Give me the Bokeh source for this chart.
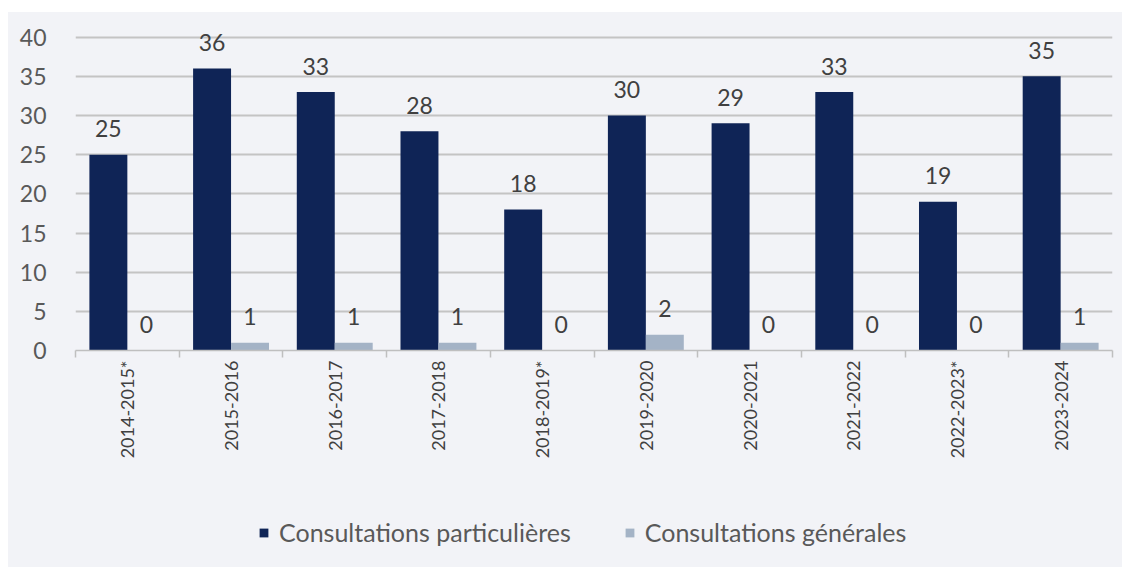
import math
from bokeh.plotting import figure
from bokeh.layouts import column
from bokeh.models import ColumnDataSource, FixedTicker, Legend, LegendItem, LabelSet
from bokeh.transform import dodge
from bokeh.core.properties import value
from bokeh.embed import file_html
from bokeh.resources import INLINE

periods = ["2014-2015*", "2015-2016", "2016-2017", "2017-2018", "2018-2019*",
           "2019-2020", "2020-2021", "2021-2022", "2022-2023*", "2023-2024"]
particulieres = [25, 36, 33, 28, 18, 30, 29, 33, 19, 35]
generales = [0, 1, 1, 1, 0, 2, 0, 0, 0, 1]
series_names = ["Consultations particulières", "Consultations générales"]
y_ticks = [0, 5, 10, 15, 20, 25, 30, 35, 40]

xs = list(range(1, len(periods) + 1))
src = ColumnDataSource(dict(
    x=xs, part=particulieres, gen=generales,
    part_s=[str(v) for v in particulieres], gen_s=[str(v) for v in generales],
))

BG = "#F2F3F7"
DARK = "#0F2456"
LIGHT = "#A4B3C6"
FONT = "Lato"

p = figure(width=1114, height=488, x_range=(0.5, 10.5), y_range=(0, 42),
           output_backend="svg", toolbar_location=None,
           background_fill_color=BG, border_fill_color=BG, outline_line_color=None,
           min_border_left=67, min_border_right=10, min_border_top=9, min_border_bottom=150)

W = 0.366
r1 = p.vbar(x=dodge("x", -W / 2, range=p.x_range), top="part", width=W, source=src,
            fill_color=DARK, line_color=None)
r2 = p.vbar(x=dodge("x", W / 2, range=p.x_range), top="gen", width=W, source=src,
            fill_color=LIGHT, line_color=None)

for col, off in (("part_s", -W / 2), ("gen_s", W / 2)):
    ycol = "part" if col == "part_s" else "gen"
    p.add_layout(LabelSet(x=dodge("x", off, range=p.x_range), y=ycol, text=col, source=src,
                          text_align="center", text_baseline="middle", y_offset=26,
                          text_font=value(FONT), text_font_size="23px", text_color="#404040"))

# grid
p.xgrid.grid_line_color = None
p.ygrid.ticker = FixedTicker(ticks=y_ticks[1:])
p.ygrid.grid_line_color = "#C4C4C4"
p.ygrid.grid_line_width = 2

# y axis
p.yaxis.ticker = FixedTicker(ticks=y_ticks)
p.yaxis.axis_line_color = None
p.yaxis.major_tick_line_color = None
p.yaxis.minor_tick_line_color = None
p.yaxis.major_label_standoff = 23
p.yaxis.major_label_text_font = FONT
p.yaxis.major_label_text_font_size = "23px"
p.yaxis.major_label_text_color = "#595959"

# x axis
p.xaxis.ticker = FixedTicker(ticks=xs, minor_ticks=[x - 0.5 for x in xs] + [xs[-1] + 0.5])
p.xaxis.major_label_overrides = {x: lab for x, lab in zip(xs, periods)}
p.xaxis.major_label_orientation = math.pi / 2
p.xaxis.major_tick_line_color = None
p.xaxis.major_tick_out = 0
p.xaxis.major_tick_in = 0
p.xaxis.minor_tick_out = 7
p.xaxis.minor_tick_in = 0
p.xaxis.minor_tick_line_color = "#BFBFBF"
p.xaxis.minor_tick_line_width = 1.5
p.xaxis.axis_line_color = "#BFBFBF"
p.xaxis.axis_line_width = 1.5
p.xaxis.major_label_standoff = 3
p.xaxis.major_label_text_font = FONT
p.xaxis.major_label_text_font_size = "18px"
p.xaxis.major_label_text_color = "#404040"

# legend strip (separate figure so the legend sits below the axis labels);
# its proxy bars are hidden, only their legend swatches are shown
lg = figure(width=1114, height=67, x_range=(100, 101), y_range=(100, 101),
            output_backend="svg", toolbar_location=None,
            x_axis_type=None, y_axis_type=None,
            background_fill_color=BG, border_fill_color=BG, outline_line_color=None,
            min_border=0, min_border_left=0, min_border_right=0,
            min_border_top=0, min_border_bottom=0)
lg.xgrid.grid_line_color = None
lg.ygrid.grid_line_color = None
k1 = lg.vbar(x="x", top="part", width=W, source=src, fill_color=DARK, line_color=None)
k2 = lg.vbar(x="x", top="gen", width=W, source=src, fill_color=LIGHT, line_color=None)
k1.visible = False
k2.visible = False
legend = Legend(items=[LegendItem(label=series_names[0], renderers=[k1]),
                       LegendItem(label=series_names[1], renderers=[k2])],
                orientation="horizontal", location=(183, 20),
                glyph_width=11, glyph_height=11, label_standoff=10, spacing=53,
                label_text_font=FONT, label_text_font_size="25px", label_text_color="#595959",
                background_fill_alpha=0, border_line_color=None, padding=0, margin=0,
                inactive_fill_alpha=0)
lg.add_layout(legend, "center")

page = column(p, lg, spacing=0, styles={"background-color": BG})
page.margin = (12, 0, 0, 8)
open("out.html", "w").write(file_html(page, INLINE))
